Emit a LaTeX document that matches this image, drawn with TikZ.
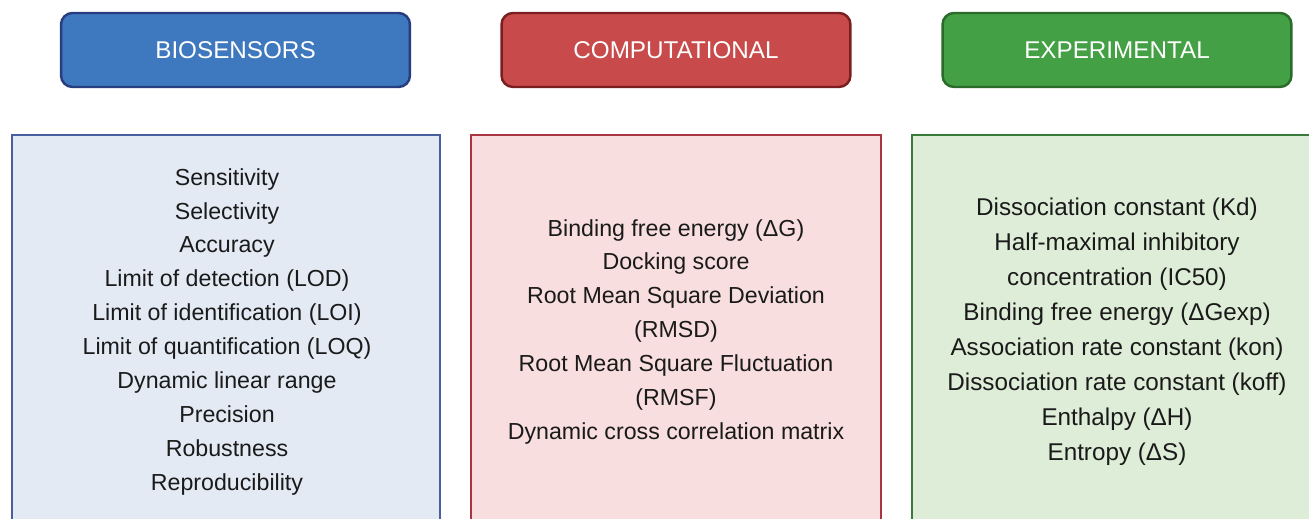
\documentclass[tikz,border=0pt]{standalone}
\usepackage{fontspec}
\setmainfont{Liberation Sans}
\usepackage{xcolor}
\usetikzlibrary{positioning}
\definecolor{headblue}{RGB}{62,120,191}
\definecolor{edgeblue}{RGB}{40,60,128}
\definecolor{paleblue}{RGB}{228,234,244}
\definecolor{lineblue}{RGB}{74,95,160}
\definecolor{headred}{RGB}{201,74,74}
\definecolor{edgered}{RGB}{122,30,34}
\definecolor{palered}{RGB}{248,222,222}
\definecolor{linered}{RGB}{168,53,64}
\definecolor{headgreen}{RGB}{68,160,68}
\definecolor{edgegreen}{RGB}{42,106,42}
\definecolor{palegreen}{RGB}{222,237,215}
\definecolor{linegreen}{RGB}{58,122,58}
\definecolor{inktext}{RGB}{26,26,26}
\tikzset{
  headbox/.style={draw, line width=1.4pt, rounded corners=6.5pt, minimum width=6.98cm, minimum height=1.48cm, text=white, font=\fontsize{13.8}{16}\selectfont},
  listbox/.style={draw, line width=1.1pt, minimum height=8cm},
  listtext/.style={align=center, text=inktext, font=\fontsize{13.2}{19.35}\selectfont}
}
\begin{document}
\begin{tikzpicture}[x=0.02cm, y=-0.02cm]
  \useasboundingbox (0,0) rectangle (1309,519);
  \clip (0,0) rectangle (1309,519);
  % headers
  \node[headbox, fill=headblue, draw=edgeblue] (bioHead) at (235.5,50) {BIOSENSORS};
  \node[headbox, fill=headred, draw=edgered] (compHead) at (676,50) {COMPUTATIONAL};
  \node[headbox, fill=headgreen, draw=edgegreen] (expHead) at (1117,50) {EXPERIMENTAL};
  % columns
  \node[listbox, fill=paleblue, draw=lineblue, minimum width=8.56cm] (bioBox) at (226,335) {};
  \node[listbox, fill=palered, draw=linered, minimum width=8.2cm] (compBox) at (676,335) {};
  \node[listbox, fill=palegreen, draw=linegreen, minimum width=8.6cm] (expBox) at (1127,335) {};
  % lists
  \node[listtext] (bioList) at (227,332) {Sensitivity\\Selectivity\\Accuracy\\Limit of detection (LOD)\\Limit of identification (LOI)\\Limit of quantification (LOQ)\\Dynamic linear range\\Precision\\Robustness\\Reproducibility};
  \node[listtext] (compList) at (676,332) {Binding free energy (ΔG)\\Docking score\\Root Mean Square Deviation\\(RMSD)\\Root Mean Square Fluctuation\\(RMSF)\\Dynamic cross correlation matrix};
  \node[listtext, font=\fontsize{13.8}{19.9}\selectfont] (expList) at (1117,332) {Dissociation constant (Kd)\\Half-maximal inhibitory\\concentration (IC50)\\Binding free energy (ΔGexp)\\Association rate constant (kon)\\Dissociation rate constant (koff)\\Enthalpy (ΔH)\\Entropy (ΔS)};
\end{tikzpicture}
\end{document}
